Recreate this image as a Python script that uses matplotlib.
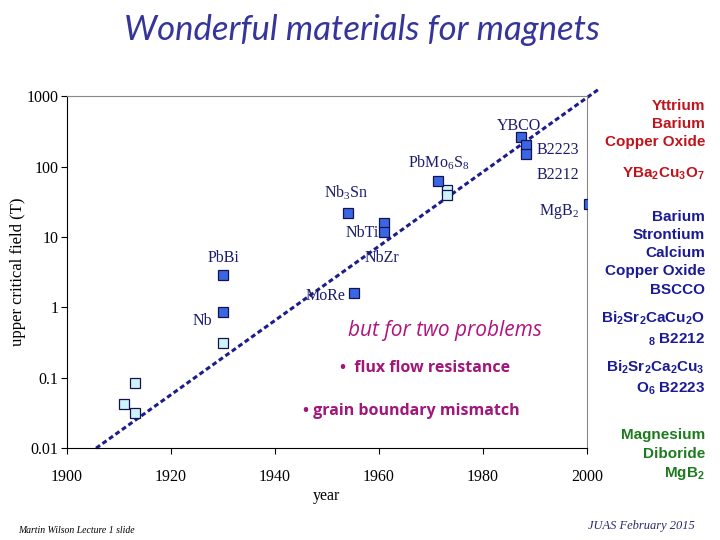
import matplotlib.pyplot as plt
import numpy as np

plt.rcParams['mathtext.fontset'] = 'custom'
plt.rcParams['mathtext.rm'] = 'Liberation Serif'
plt.rcParams['mathtext.sf'] = 'Liberation Sans:bold'

# measured points (year, upper critical field in tesla)
light_year = [1911, 1913, 1913, 1930, 1973.2, 1973.2]
light_field = [0.042, 0.084, 0.032, 0.31, 46, 39]
dark_year = [1930, 1930, 1954, 1955.3, 1961, 1961, 1971.3, 1987.3, 1988.3, 1988.3, 2000.5]
dark_field = [0.85, 2.9, 21.8, 1.6, 15.7, 11.7, 62, 262, 201, 150, 29]

# trend line
trend_year = [1905.6, 2002.6]
trend_field = [0.01, 1300]

labels = ['YBCO', 'B2223', 'B2212', 'PbMo$_6$S$_8$', 'Nb$_3$Sn', 'NbTi', 'NbZr',
          'PbBi', 'MoRe', 'Nb', 'MgB$_2$']
label_x = [1987.0, 1990.4, 1990.4, 1965.7, 1949.5, 1960.1, 1957.2, 1930.1, 1946.0, 1928.0, 1990.8]
label_y = [375, 171, 75.5, 112, 43, 11.3, 5.0, 5.0, 1.44, 0.64, 23]
label_ha = ['center', 'left', 'left', 'left', 'left', 'right', 'left', 'center', 'left', 'right', 'left']

xticks = [1900, 1920, 1940, 1960, 1980, 2000]
yticks = [0.01, 0.1, 1, 10, 100, 1000]
ytick_labels = ['0.01', '0.1', '1', '10', '100', '1000']

navy = '#1c1c6c'
serif = 'Liberation Serif'

fig = plt.figure(figsize=(7.2, 5.4), dpi=100)
ax = fig.add_axes([0.093, 0.170, 0.722, 0.652])

ax.plot(trend_year, trend_field, ls=(0, (1.6, 1.0)), color='#1c1c8c', lw=2.2,
        clip_on=False, zorder=2)
ax.plot(light_year, light_field, 's', ms=6.5, mfc='#cdf3ff', mec='#14144a', mew=0.9,
        ls='none', zorder=3)
ax.plot(dark_year, dark_field, 's', ms=6.5, mfc='#3a66e6', mec='#14144a', mew=0.9,
        ls='none', zorder=3)

for t, x, y, ha in zip(labels, label_x, label_y, label_ha):
    ax.text(x, y, t, ha=ha, va='center', fontsize=11.5, family=serif, color=navy)

ax.set_yscale('log')
ax.set_xlim(1900, 2000)
ax.set_ylim(0.01, 1000)
ax.set_xticks(xticks)
ax.set_xticklabels([str(v) for v in xticks], family=serif, fontsize=11.5)
ax.set_yticks(yticks)
ax.set_yticklabels(ytick_labels, family=serif, fontsize=11.5)
ax.minorticks_off()
ax.tick_params(axis='x', direction='out', length=4, pad=11)
ax.tick_params(axis='y', direction='out', length=4, pad=2)
for s in ['top', 'right']:
    ax.spines[s].set_color('#888888')
ax.set_xlabel('year', family=serif, fontsize=11.5)
ax.xaxis.set_label_coords(0.50, -0.112)
ax.set_ylabel('upper critical field (T)', family=serif, fontsize=12)
ax.yaxis.set_label_coords(-0.078, 0.5)

ax.text(0.727, 0.335, 'but for two problems', transform=ax.transAxes, ha='center',
        va='center', fontsize=15, style='italic', family='Open Sans', color='#b0157e')
ax.text(0.688, 0.227, '\u2022  flux flow resistance', transform=ax.transAxes, ha='center',
        va='center', fontsize=11.5, weight='bold', family='Open Sans', color='#a0167a')
ax.text(0.662, 0.105, '\u2022 grain boundary mismatch', transform=ax.transAxes, ha='center',
        va='center', fontsize=11.5, weight='bold', family='Open Sans', color='#a0167a')

fig.text(0.503, 0.944, 'Wonderful materials for magnets', ha='center', va='center',
         fontsize=25, style='italic', family='Lato', color='#35359a')

red = '#c0141c'
blue = '#1a1a96'
green = '#1e7a1e'
sans = 'Liberation Sans'
side = dict(ha='right', va='center', fontsize=11, weight='bold', family=sans,
            linespacing=1.38)
fig.text(0.979, 0.770, 'Yttrium\nBarium\nCopper Oxide', color=red, **side)
fig.text(0.979, 0.678, r'YBa$_{\mathsf{2}}$Cu$_{\mathsf{3}}$O$_{\mathsf{7}}$', color=red, **side)
fig.text(0.979, 0.531, 'Barium\nStrontium\nCalcium\nCopper Oxide\nBSCCO', color=blue, **side)
fig.text(0.979, 0.391,
         'Bi$_{\\mathsf{2}}$Sr$_{\\mathsf{2}}$CaCu$_{\\mathsf{2}}$O\n$_{\\mathsf{8}}$ B2212',
         color=blue, **side)
fig.text(0.979, 0.300,
         'Bi$_{\\mathsf{2}}$Sr$_{\\mathsf{2}}$Ca$_{\\mathsf{2}}$Cu$_{\\mathsf{3}}$\nO$_{\\mathsf{6}}$ B2223',
         color=blue, **side)
fig.text(0.979, 0.157, 'Magnesium\nDiboride\nMgB$_{\\mathsf{2}}$', color=green, **side)

fig.text(0.025, 0.018, 'Martin Wilson Lecture 1 slide', ha='left', va='center',
         fontsize=7, style='italic', family=serif, color='black')
fig.text(0.965, 0.025, 'JUAS February 2015', ha='right', va='center',
         fontsize=9, style='italic', family=serif, color='#2a2a70')

fig.savefig('out.png', dpi=100)
